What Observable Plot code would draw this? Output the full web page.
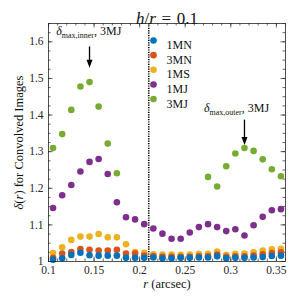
<!DOCTYPE html>
<html><head><meta charset="utf-8">
<script src="https://cdn.jsdelivr.net/npm/d3@7"></script>
<script src="https://cdn.jsdelivr.net/npm/@observablehq/plot@0.6"></script>
<style>html,body{margin:0;padding:0;background:#fff;} svg{display:block}</style>
</head><body><div id="chart"></div>
<script>
// radius values (arcsec)
const r = [0.105,0.115,0.125,0.135,0.145,0.155,0.165,0.175,0.185,0.195,0.205,0.215,0.225,
           0.235,0.245,0.255,0.265,0.275,0.285,0.295,0.305,0.315,0.325,0.335,0.345,0.355];
const mn1 = [1.005,1.009,1.018,1.024,1.017,1.016,1.016,1.016,1.010,1.010,1.010,1.011,1.009,
             1.009,1.010,1.010,1.011,1.011,1.014,1.009,1.010,1.010,1.011,1.012,1.015,1.016];
const mn3 = [1.010,1.022,1.026,1.034,1.032,1.030,1.030,1.032,1.022,1.022,1.016,1.015,1.013,
             1.013,1.013,1.013,1.014,1.014,1.019,1.013,1.014,1.014,1.016,1.020,1.023,1.025];
const ms1 = [1.023,1.039,1.059,1.068,1.068,1.075,1.066,1.066,1.047,1.026,1.024,1.020,1.019,
             1.019,1.018,1.019,1.021,1.021,1.027,1.018,1.021,1.022,1.025,1.030,1.033,1.035];
const mj1 = [1.146,1.181,1.209,1.246,1.272,1.280,1.239,1.162,1.121,1.115,1.102,1.090,1.076,
             1.062,1.062,1.079,1.094,1.102,1.094,1.083,1.088,1.071,1.099,1.122,1.140,1.143];
const mj3 = [1.310,1.348,1.414,1.478,1.490,1.423,1.322,1.241,null,null,null,null,null,
             null,null,null,null,1.231,1.205,1.260,1.295,1.310,1.302,1.279,1.252,1.233];
const seriesNames = ["1MN","3MN","1MS","1MJ","3MJ"];
const seriesValues = [mn1, mn3, ms1, mj1, mj3];
const colors = ["#0072BD","#D95319","#EDB120","#7E2F8E","#77AC30"];
const xTicks = [0.1,0.15,0.2,0.25,0.3,0.35];
const yTicks = [1,1.1,1.2,1.3,1.4,1.5,1.6];
const dividerR = 0.21;
const annotations = [
  {sub: "max,inner", textX: 0.1085, textY: 1.630, arrowX: 0.145, arrowTop: 1.586, arrowTip: 1.529},
  {sub: "max,outer", textX: 0.2705, textY: 1.419, arrowX: 0.315, arrowTop: 1.386, arrowTip: 1.318}
];

// long-format table, drawn so that 1MN ends up on top
const rows = [];
for (let s = seriesNames.length - 1; s >= 0; s--) {
  r.forEach((x, i) => { const v = seriesValues[s][i]; if (v != null) rows.push({r: x, d: v, series: seriesNames[s]}); });
}

const W = 293, H = 301, mt = 23, mb = 40, ml = 48, mr = 8;
const fw = W - ml - mr, fh = H - mt - mb;
const minorX = d3.range(10, 37).map(v => v / 100);
const minorY = d3.range(0, 27).map(v => 1 + v * 0.025);
const majorLen = 4.5, minorLen = 2.5;
const ink = "#262626";

const arrowHead = {draw(ctx) { ctx.moveTo(0, 0); ctx.lineTo(-3, -8); ctx.lineTo(3, -8); ctx.closePath(); }};

const legendMarks = seriesNames.flatMap((name, i) => [
  Plot.dot([name], {frameAnchor: "top-left", dx: 105, dy: 17 + i * 14.65, r: 3.3, fill: colors[i]}),
  Plot.text([name], {frameAnchor: "top-left", dx: 118, dy: 17 + i * 14.65, text: d => d, textAnchor: "start", fontSize: 12, fill: "#111"})
]);

const chart = Plot.plot({
  width: W, height: H,
  marginTop: mt, marginBottom: mb, marginLeft: ml, marginRight: mr,
  style: {fontFamily: "'Liberation Serif', 'Times New Roman', serif", fontSize: "11px", color: ink, background: "white"},
  x: {domain: [0.1, 0.36]},
  y: {domain: [1, 1.65]},
  color: {domain: seriesNames, range: colors},
  marks: [
    // minor ticks
    Plot.tickX(minorX, {x: d => d, insetTop: fh - minorLen, stroke: ink, strokeWidth: 0.7}),
    Plot.tickX(minorX, {x: d => d, insetBottom: fh - minorLen, stroke: ink, strokeWidth: 0.7}),
    Plot.tickY(minorY, {y: d => d, insetRight: fw - minorLen, stroke: ink, strokeWidth: 0.7}),
    Plot.tickY(minorY, {y: d => d, insetLeft: fw - minorLen, stroke: ink, strokeWidth: 0.7}),
    // major ticks
    Plot.tickX(xTicks, {x: d => d, insetTop: fh - majorLen, stroke: ink, strokeWidth: 0.7}),
    Plot.tickX(xTicks, {x: d => d, insetBottom: fh - majorLen, stroke: ink, strokeWidth: 0.7}),
    Plot.tickY(yTicks, {y: d => d, insetRight: fw - majorLen, stroke: ink, strokeWidth: 0.7}),
    Plot.tickY(yTicks, {y: d => d, insetLeft: fw - majorLen, stroke: ink, strokeWidth: 0.7}),
    Plot.axisX(xTicks, {tickSize: 0, tickPadding: 4, tickFormat: d3.format("~g"), label: null, fontSize: 11.5, fill: ink}),
    Plot.axisY(yTicks, {tickSize: 0, tickPadding: 5, tickFormat: d3.format("~g"), label: null, fontSize: 11.5, fill: ink}),
    Plot.ruleX([dividerR], {stroke: "black", strokeWidth: 1.6, strokeDasharray: "1.2,1.2"}),
    Plot.dot(rows, {x: "r", y: "d", fill: "series", r: 3.3}),
    // annotations
    Plot.ruleX(annotations, {x: "arrowX", y1: "arrowTop", y2: d => d.arrowTip + 0.02, stroke: "black", strokeWidth: 1.3}),
    Plot.dot(annotations, {x: "arrowX", y: "arrowTip", symbol: arrowHead, fill: "black", r: 3}),
    Plot.text(annotations, {x: "textX", y: "textY", text: "sub", textAnchor: "start", fontSize: 12, fill: "#111", ariaLabel: () => "annot"}),
    ...legendMarks,
    Plot.frame({stroke: ink, strokeWidth: 0.8}),
    Plot.text(["title"], {frameAnchor: "top", dy: -12, text: d => d, fontSize: 17, fill: "#111", ariaLabel: () => "title"}),
    Plot.text(["xlabel"], {frameAnchor: "bottom", dy: 26, text: d => d, fontSize: 12.5, fill: "#111", ariaLabel: () => "xlabel"}),
    Plot.text(["ylabel"], {x: () => 0.1, y: () => 1.325, dx: -30, rotate: -90, textAnchor: "middle", text: d => d, fontSize: 12.5, fill: "#111", ariaLabel: () => "ylabel"})
  ]
});

function rich(node, parts) {
  const t = d3.select(node); t.text(null);
  let shift = 0;
  parts.forEach(p => {
    const ts = t.append("tspan").text(p.t);
    if (p.i) ts.attr("font-style", "italic");
    if (p.size) ts.attr("font-size", p.size);
    const target = p.sub || 0;
    if (target !== shift) { ts.attr("dy", target - shift); shift = target; }
  });
}
const svg = d3.select(chart);
function textsFor(label) {
  return svg.selectAll(`text[aria-label="${label}"], g[aria-label="${label}"] > text`);
}
textsFor("title").each(function() {
  rich(this, [{t: "h", i: true}, {t: "/"}, {t: "r", i: true}, {t: "\u2004=\u20040.1"}]);
});
textsFor("xlabel").each(function() {
  rich(this, [{t: "r", i: true}, {t: " (arcsec)"}]);
});
textsFor("ylabel").each(function() {
  d3.select(this).attr("text-anchor", "middle");
  rich(this, [{t: "\u03b4", i: true}, {t: "("}, {t: "r", i: true}, {t: ") for Convolved Images"}]);
});
textsFor("annot").each(function(_, i) {
  rich(this, [{t: "\u03b4", i: true}, {t: annotations[i].sub, size: 8, sub: 3}, {t: ", 3MJ"}]);
});

document.getElementById("chart").append(chart);
</script></body></html>
